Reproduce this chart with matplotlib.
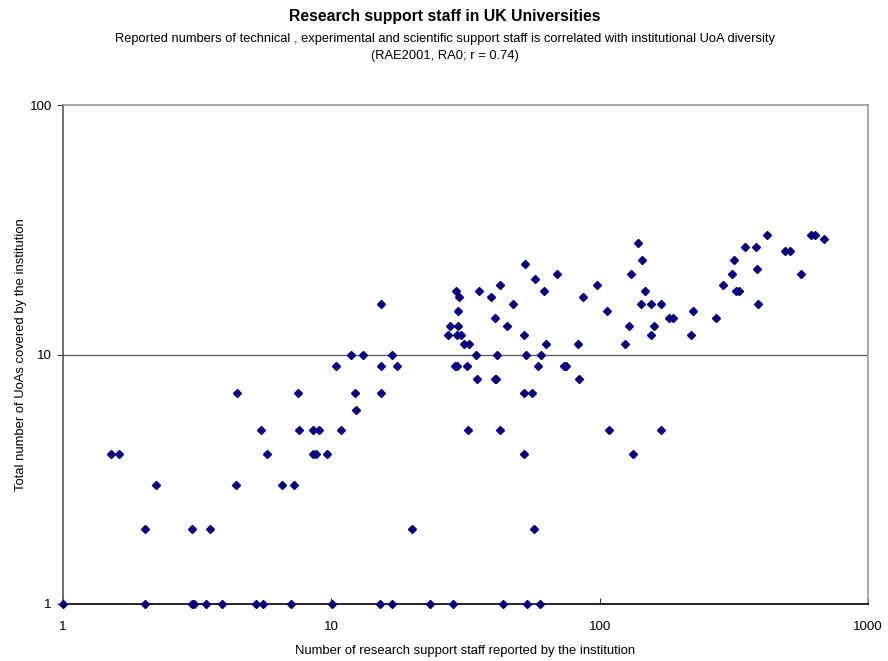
import matplotlib
matplotlib.use("Agg")
import matplotlib.pyplot as plt
from matplotlib.ticker import FixedLocator, NullLocator

plt.rcParams['font.family'] = ['Liberation Sans', 'DejaVu Sans']

# Number of research support staff reported (x) and UoAs covered (y)
staff = [
    1.0, 2.02, 3.03, 3.08, 3.41, 3.93, 5.22, 5.57, 7.07, 10.1, 15.2, 16.8, 23.3, 28.5, 43.8, 53.8, 60.1,
    2.02, 3.03, 3.54, 19.9, 57.1,
    2.22, 4.40, 6.57, 7.28,
    1.51, 1.62, 5.76, 8.57, 8.75, 9.61, 52.1, 132.8,
    5.46, 7.6, 8.57, 8.98, 10.9, 32.4, 42.5, 108.1, 169.8,
    12.4,
    4.47, 7.49, 12.2, 15.3, 52.1, 56.1,
    35.0, 40.7, 41.1, 83.8,
    10.4, 15.3, 17.6, 28.9, 29.4, 32.1, 58.8, 73.5, 74.7,
    11.8, 13.1, 16.9, 34.5, 41.6, 53.2, 60.3,
    31.1, 32.5, 63.0, 83.3, 124.7,
    27.3, 29.3, 30.4, 52.3, 155.4, 219.1,
    27.7, 29.6, 45.1, 128.7, 159.9,
    40.8, 181.9, 188.3, 272.3,
    29.6, 106.6, 223.5,
    15.3, 47.5, 143.0, 155.4, 169.8, 389.5,
    29.9, 39.5, 86.7,
    29.1, 35.6, 62.2, 147.3, 321.6, 330.9,
    42.5, 97.8, 288.4,
    57.6,
    69.4, 130.6, 310.7, 563.3,
    385.1,
    52.9,
    143.9, 316.1,
    489.7, 513.8,
    348.3, 383.7,
    139.0,
    684.2,
    421.7, 612.0, 633.4,
]
uoas = (
    [1] * 17 + [2] * 5 + [3] * 4 + [4] * 8 + [5] * 9 + [6] * 1 + [7] * 6 + [8] * 4
    + [9] * 9 + [10] * 7 + [11] * 5 + [12] * 6 + [13] * 5 + [14] * 4 + [15] * 3
    + [16] * 6 + [17] * 3 + [18] * 6 + [19] * 3 + [20] * 1 + [21] * 4 + [22] * 1
    + [23] * 1 + [24] * 2 + [26] * 2 + [27] * 2 + [28] * 1 + [29] * 1 + [30] * 3
)

x_ticks = [1, 10, 100, 1000]
x_tick_labels = ["1", "10", "100", "1000"]
y_ticks = [1, 10, 100]
y_tick_labels = ["1", "10", "100"]

title = "Research support staff in UK Universities"
subtitle = ("Reported numbers of technical , experimental and scientific support staff is correlated with institutional UoA diversity\n"
            "(RAE2001, RA0; r = 0.74)")
xlabel = "Number of research support staff reported by the institution"
ylabel = "Total number of UoAs covered by the institution"

fig = plt.figure(figsize=(8.88, 6.61), dpi=100)
ax = fig.add_axes([63 / 888, 1 - 604 / 661, (868 - 63) / 888, (604 - 105) / 661])

ax.set_xscale('log')
ax.set_yscale('log')
ax.set_xlim(1, 1000)
ax.set_ylim(1, 100)

ax.axhline(10, color='#555555', lw=0.9, zorder=1)

ax.plot(staff, uoas, linestyle='none', marker='D', markersize=4.3,
        color='#000080', markeredgecolor='#000080', clip_on=False, zorder=3)

ax.xaxis.set_major_locator(FixedLocator(x_ticks))
ax.xaxis.set_minor_locator(NullLocator())
ax.yaxis.set_major_locator(FixedLocator(y_ticks))
ax.yaxis.set_minor_locator(NullLocator())
ax.set_xticklabels(x_tick_labels)
ax.set_yticklabels(y_tick_labels)
ax.tick_params(axis='x', direction='in', length=4, width=0.8, color='#333333',
               labelsize=9.6, pad=12)
ax.tick_params(axis='y', direction='out', length=4, width=0.8, color='#333333',
               labelsize=9.6, pad=4)

for side in ['top', 'right']:
    ax.spines[side].set_color('#999999')
    ax.spines[side].set_linewidth(1.2)
ax.spines['left'].set_color('#555555')
ax.spines['left'].set_linewidth(1.2)
ax.spines['bottom'].set_color('#000000')
ax.spines['bottom'].set_linewidth(1.2)

ax.set_xlabel(xlabel, fontsize=9.4, labelpad=9)
ax.set_ylabel(ylabel, fontsize=9.4, labelpad=2)

fig.text(445 / 888, 1 - 16 / 661, title, ha='center', va='center', fontsize=11.3, fontweight='bold')
fig.text(445 / 888, 1 - 47.5 / 661, subtitle, ha='center', va='center', fontsize=9.3, linespacing=1.5)

fig.savefig('out.png', dpi=100, facecolor='white')
